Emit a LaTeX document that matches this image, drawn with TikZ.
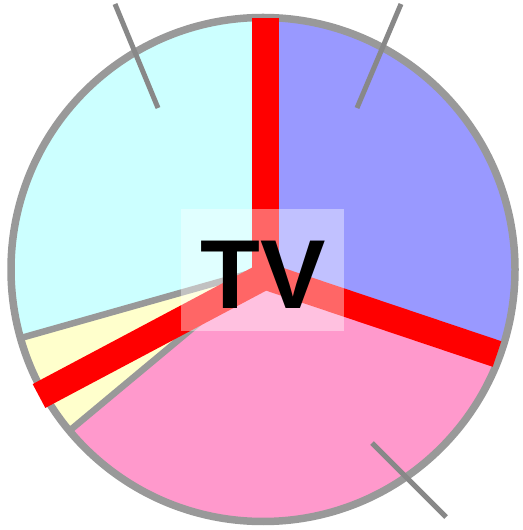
\documentclass[tikz,border=0pt]{standalone}
\usepackage{fontspec}
\setmainfont{Liberation Sans}
\usetikzlibrary{positioning}

\definecolor{sliceCyan}{HTML}{CCFFFF}
\definecolor{sliceBlue}{HTML}{9999FF}
\definecolor{slicePink}{HTML}{FF99CC}
\definecolor{sliceYellow}{HTML}{FFFFCC}
\definecolor{rimGray}{HTML}{999999}
\definecolor{tickGray}{HTML}{888888}

\begin{document}
\begin{tikzpicture}[
  x=1pt, y=1pt,
  rim/.style={draw=rimGray, line width=7.5pt},
  divider/.style={draw=rimGray, line width=6.5pt},
  bar/.style={draw=red, line width=27pt, line join=miter},
  tick/.style={draw=tickGray, line width=5pt},
  screen/.style={rectangle, fill=white, fill opacity=0.4, minimum width=163pt, minimum height=122pt, inner sep=0pt},
  lab/.style={font=\fontsize{98}{98}\selectfont\bfseries, text=black, inner sep=0pt}
]
  \useasboundingbox (0,0) rectangle (522,530);
  \def\R{252}
  \coordinate (o) at (263,260.5);

  % slices
  \fill[sliceCyan] (o) -- ++(90:\R) arc[start angle=90, end angle=195.8, radius=\R] -- cycle;
  \fill[sliceYellow] (o) -- ++(195.8:\R) arc[start angle=195.8, end angle=219.8, radius=\R] -- cycle;
  \fill[slicePink] (o) -- ++(219.8:\R) arc[start angle=219.8, end angle=340, radius=\R] -- cycle;
  \fill[sliceBlue] (o) -- ++(-20:\R) arc[start angle=-20, end angle=90, radius=\R] -- cycle;
  \draw[divider] (o) -- ++(195.8:\R);
  \draw[divider] (o) -- ++(219.8:\R);
  \draw[rim] (o) circle[radius=\R];

  % red spokes
  \coordinate (hub) at (265,254);
  \coordinate (barTop) at (265,512);
  \coordinate (barLeft) at (39,134);
  \coordinate (barRight) at (497,176);
  \draw[bar] (barLeft) -- (hub) -- (barRight);
  \draw[bar] (barTop) -- (hub);

  % ticks
  \draw[tick] (115,526) -- (158,422);
  \draw[tick] (401,526) -- (357,422);
  \draw[tick] (372,87) -- (446,13);

  \node[screen] (screen) at (262.5,260) {};
  \node[lab] (tv) at (263.5,255) {TV};
\end{tikzpicture}
\end{document}
